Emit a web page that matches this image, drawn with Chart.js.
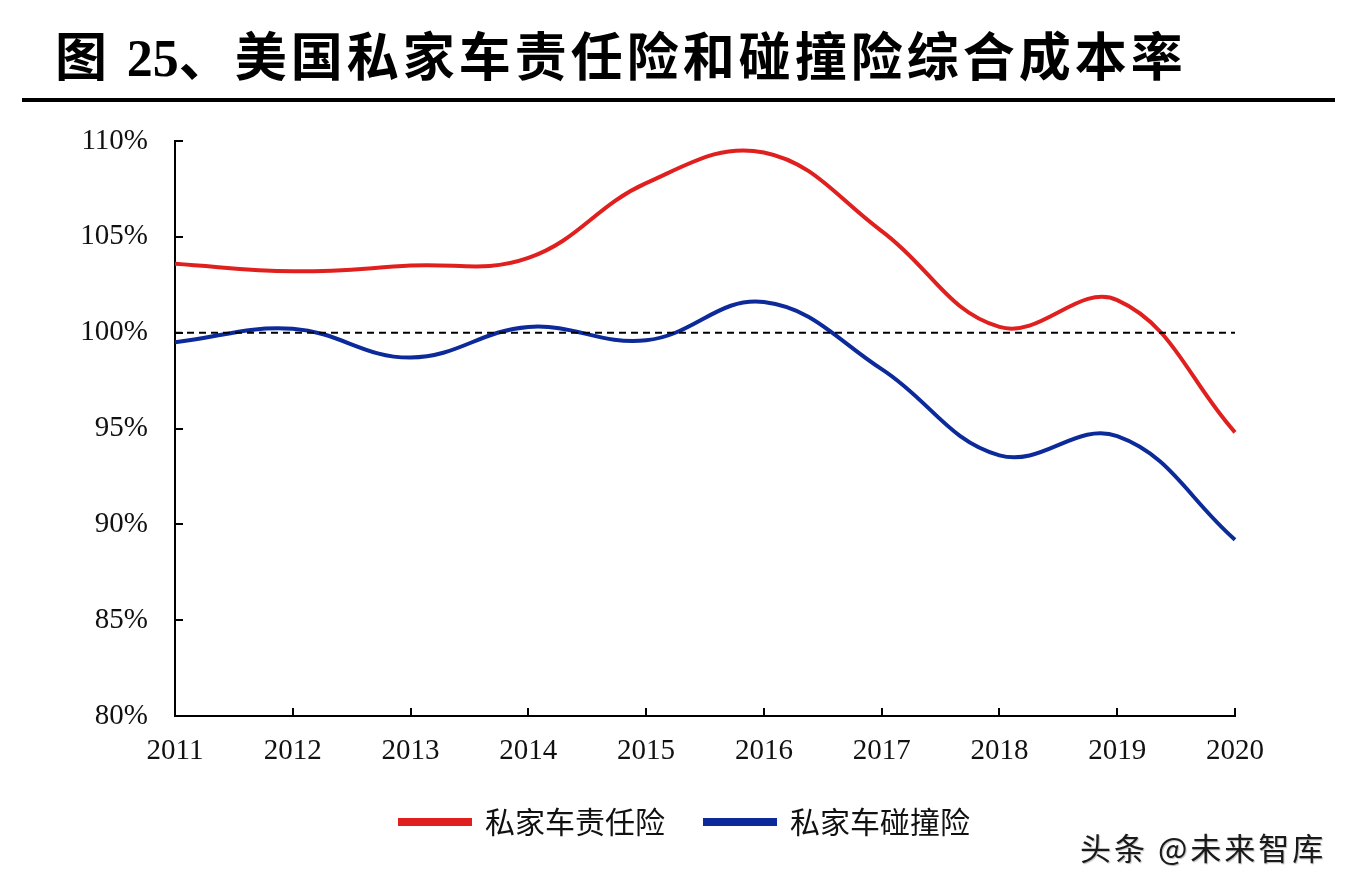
<!DOCTYPE html>
<html>
<head>
<meta charset="utf-8">
<script src="https://cdn.jsdelivr.net/npm/chart.js@4.4.1/dist/chart.umd.min.js"></script>
<style>
  html, body { margin: 0; padding: 0; background: #fff; }
  #page { position: relative; width: 1354px; height: 886px; overflow: hidden; }
  #title {
    position: absolute; left: 55px; top: 28px;
    font-family: "Noto Sans CJK SC", sans-serif; font-weight: 700;
    font-size: 52px; line-height: 1; color: #000; white-space: nowrap;
    letter-spacing: 4px;
  }
  #title .num { font-family: "Liberation Serif", serif; font-weight: 700; letter-spacing: 0; }
  #rule { position: absolute; left: 22px; top: 98px; width: 1313px; height: 4px; background: #000; }
  #wrap { position: absolute; left: 0; top: 0; width: 1354px; height: 886px; }
  #mark {
    position: absolute; left: 1080px; top: 824px;
    font-family: "Noto Sans CJK SC", sans-serif; font-size: 31px; color: #1a1a1a;
    letter-spacing: 3px; text-shadow: 1px 1px 1px #bbb; white-space: nowrap;
  }
</style>
</head>
<body>
<div id="page">
  <div id="wrap"><canvas id="chart" width="1354" height="886"></canvas></div>
  <div id="title">图 <span class="num">25</span>、美国私家车责任险和碰撞险综合成本率</div>
  <div id="rule"></div>
  <div id="mark">头条 @未来智库</div>
</div>
<script>
const years = ["2011", "2012", "2013", "2014", "2015", "2016", "2017", "2018", "2019", "2020"];
const liability = [103.6, 103.2, 103.5, 103.9, 107.8, 109.4, 105.3, 100.3, 101.7, 94.8];
const collision = [99.5, 100.2, 98.7, 100.3, 99.6, 101.6, 98.1, 93.6, 94.6, 89.2];
const baseline = [100, 100, 100, 100, 100, 100, 100, 100, 100, 100];
const yTicks = [80, 85, 90, 95, 100, 105, 110];

const RED = "#e0201e";
const BLUE = "#0c2a9a";

// ticks in the reference point inward, so draw them ourselves from the scales
const innerTicks = {
  id: "innerTicks",
  afterLayout(chart) {
    // legend is centred under the plot area, not the whole canvas
    chart.legend.left += 115;
  },
  afterDatasetsDraw(chart) {
    const { ctx, chartArea, scales } = chart;
    ctx.save();
    ctx.strokeStyle = "#000";
    ctx.lineWidth = 2;
    ctx.beginPath();
    scales.y.ticks.forEach((t, i) => {
      const y = Math.round(scales.y.getPixelForTick(i));
      ctx.moveTo(chartArea.left, y);
      ctx.lineTo(chartArea.left + 8, y);
    });
    scales.x.ticks.forEach((t, i) => {
      const x = Math.round(scales.x.getPixelForTick(i));
      ctx.moveTo(x, chartArea.bottom);
      ctx.lineTo(x, chartArea.bottom - 8);
    });
    ctx.stroke();
    ctx.restore();
  }
};

const ctx = document.getElementById("chart").getContext("2d");
new Chart(ctx, {
  type: "line",
  data: {
    labels: years,
    datasets: [
      {
        label: "私家车责任险",
        data: liability,
        borderColor: RED,
        backgroundColor: RED,
        borderWidth: 4,
        tension: 0.4,
        pointRadius: 0,
        order: 1
      },
      {
        label: "私家车碰撞险",
        data: collision,
        borderColor: BLUE,
        backgroundColor: BLUE,
        borderWidth: 4,
        tension: 0.4,
        pointRadius: 0,
        order: 2
      },
      {
        label: "100%",
        data: baseline,
        borderColor: "#000",
        borderWidth: 2,
        borderDash: [7, 5],
        pointRadius: 0,
        order: 0
      }
    ]
  },
  options: {
    responsive: false,
    animation: false,
    devicePixelRatio: 1,
    layout: { padding: { top: 141, left: 20, right: 119, bottom: 39 } },
    plugins: {
      tooltip: { enabled: false },
      legend: {
        position: "bottom",
        labels: {
          filter: (item) => item.text !== "100%",
          boxWidth: 70,
          boxHeight: 4,
          padding: 40,
          color: "#111",
          font: { family: "'Noto Sans CJK SC', sans-serif", size: 30 }
        }
      }
    },
    scales: {
      x: {
        type: "category",
        offset: false,
        grid: { display: false, drawTicks: false },
        border: { display: true, color: "#000", width: 2 },
        ticks: {
          color: "#111",
          padding: 18,
          maxRotation: 0,
          autoSkip: false,
          font: { family: "'Liberation Serif', serif", size: 29 }
        },
        afterFit: (s) => { s.height = 51; }
      },
      y: {
        min: 80,
        max: 110,
        grid: { display: false, drawTicks: false },
        border: { display: true, color: "#000", width: 2 },
        afterBuildTicks: (s) => { s.ticks = yTicks.map((v) => ({ value: v })); },
        ticks: {
          color: "#111",
          padding: 27,
          callback: (v) => v + "%",
          font: { family: "'Liberation Serif', serif", size: 29 }
        },
        afterFit: (s) => { s.width = 155; }
      }
    }
  },
  plugins: [innerTicks]
});
</script>
</body>
</html>
